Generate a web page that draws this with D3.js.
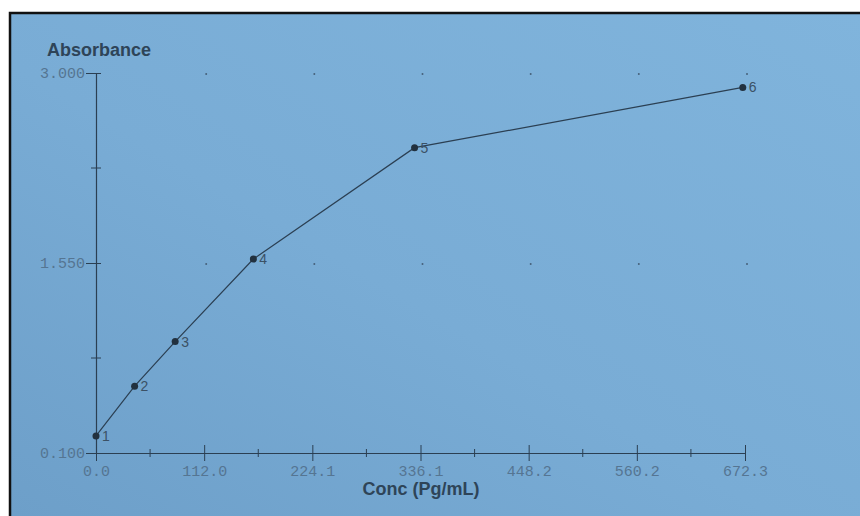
<!DOCTYPE html>
<html>
<head>
<meta charset="utf-8">
<script src="https://cdn.jsdelivr.net/npm/d3@7"></script>
<style>
  html, body { margin: 0; padding: 0; background: #fff; }
  svg { display: block; }
</style>
</head>
<body>
<svg id="chart" width="860" height="516"></svg>
<script>
// standard curve points
const pointLabels = ["1", "2", "3", "4", "5", "6"];
const concValues = [0, 40, 82, 163, 330, 670];
const absValues = [0.23, 0.61, 0.95, 1.58, 2.43, 2.89];

// axis ticks
const xTickLabels = ["0.0", "112.0", "224.1", "336.1", "448.2", "560.2", "672.3"];
const xMax = 672.3;
const yTickValues = [0.1, 1.55, 3.0];
const yTickLabels = ["0.100", "1.550", "3.000"];
const yMinorValues = [0.825, 2.275];

const svg = d3.select("#chart");
const width = 860, height = 516;

// paper background + the dark frame edge of the photo
const defs = svg.append("defs");
const grad = defs.append("linearGradient")
    .attr("id", "paper")
    .attr("x1", "100%").attr("y1", "0%")
    .attr("x2", "0%").attr("y2", "100%");
grad.append("stop").attr("offset", "0%").attr("stop-color", "#80b4dc");
grad.append("stop").attr("offset", "55%").attr("stop-color", "#79acd5");
grad.append("stop").attr("offset", "100%").attr("stop-color", "#6d9fc9");

svg.append("rect").attr("x", 10).attr("y", 13)
    .attr("width", width - 10).attr("height", height - 13)
    .attr("fill", "url(#paper)");
svg.append("path")
    .attr("d", `M10,${height} L10,13 L${width},13`)
    .attr("fill", "none").attr("stroke", "#111").attr("stroke-width", 2.5);

const x = d3.scaleLinear().domain([0, xMax]).range([96, 745]);
const y = d3.scaleLinear().domain([0.1, 3.0]).range([453, 73]);

const ink = "#2b3f52";
const tickInk = "#557592";

// grid dots
const xTickVals = xTickLabels.map((d, i) => i * xMax / 6);
const dots = [];
xTickVals.slice(1).forEach(xv => [3.0, 1.55].forEach(yv => dots.push([xv, yv])));
svg.append("g").selectAll("circle").data(dots).join("circle")
    .attr("cx", d => x(d[0]) + 2).attr("cy", d => y(d[1]) + 1)
    .attr("r", 1).attr("fill", "#46607a");

// x axis
const xAxis = d3.axisBottom(x)
    .tickValues(xTickVals)
    .tickFormat((d, i) => xTickLabels[i])
    .tickSizeInner(8).tickSizeOuter(0).tickPadding(4);
const gx = svg.append("g").attr("transform", `translate(0,${y(0.1)})`).call(xAxis);
gx.select(".domain").attr("stroke", ink).attr("stroke-width", 1.2);
gx.selectAll(".tick line").attr("stroke", ink).attr("y1", -8);
gx.selectAll(".tick text")
    .attr("fill", tickInk).attr("font-family", "Liberation Mono, monospace")
    .attr("font-size", 15);

// x minor ticks
const xMinor = xTickVals.slice(0, -1).map(d => d + xMax / 12);
svg.append("g").selectAll("line").data(xMinor).join("line")
    .attr("x1", d => x(d)).attr("x2", d => x(d))
    .attr("y1", y(0.1) - 4).attr("y2", y(0.1) + 4)
    .attr("stroke", ink).attr("stroke-width", 1);

// y axis
const yAxis = d3.axisLeft(y)
    .tickValues(yTickValues)
    .tickFormat((d, i) => yTickLabels[i])
    .tickSizeInner(10).tickSizeOuter(0).tickPadding(1);
const gy = svg.append("g").attr("transform", `translate(${x(0)},0)`).call(yAxis);
gy.select(".domain").attr("stroke", ink).attr("stroke-width", 1.2);
gy.selectAll(".tick line").attr("stroke", ink).attr("x2", 5).attr("x1", -10);
gy.selectAll(".tick text")
    .attr("fill", tickInk).attr("font-family", "Liberation Mono, monospace")
    .attr("font-size", 15);

// y minor ticks
svg.append("g").selectAll("line").data(yMinorValues).join("line")
    .attr("x1", x(0) - 5).attr("x2", x(0) + 5)
    .attr("y1", d => y(d)).attr("y2", d => y(d))
    .attr("stroke", ink).attr("stroke-width", 1);

// curve
const pts = concValues.map((c, i) => ({ c, a: absValues[i], label: pointLabels[i] }));
const line = d3.line().x(d => x(d.c)).y(d => y(d.a));
svg.append("path").datum(pts)
    .attr("fill", "none").attr("stroke", ink).attr("stroke-width", 1.2)
    .attr("d", line);

svg.append("g").selectAll("circle").data(pts).join("circle")
    .attr("cx", d => x(d.c)).attr("cy", d => y(d.a))
    .attr("r", 3.5).attr("fill", "#22313f");

svg.append("g").selectAll("text").data(pts).join("text")
    .attr("x", d => x(d.c) + 6).attr("y", d => y(d.a) + 5)
    .attr("font-family", "Liberation Sans, Arial, sans-serif")
    .attr("font-size", 14).attr("fill", "#3b5165")
    .text(d => d.label);

// axis titles
svg.append("text")
    .attr("x", 47).attr("y", 56)
    .attr("font-family", "Liberation Sans, Arial, sans-serif")
    .attr("font-weight", "bold").attr("font-size", 18)
    .attr("fill", "#2e4458")
    .text("Absorbance");

svg.append("text")
    .attr("x", 421).attr("y", 495)
    .attr("text-anchor", "middle")
    .attr("font-family", "Liberation Sans, Arial, sans-serif")
    .attr("font-weight", "bold").attr("font-size", 18)
    .attr("fill", "#2e4458")
    .text("Conc (Pg/mL)");
</script>
</body>
</html>
